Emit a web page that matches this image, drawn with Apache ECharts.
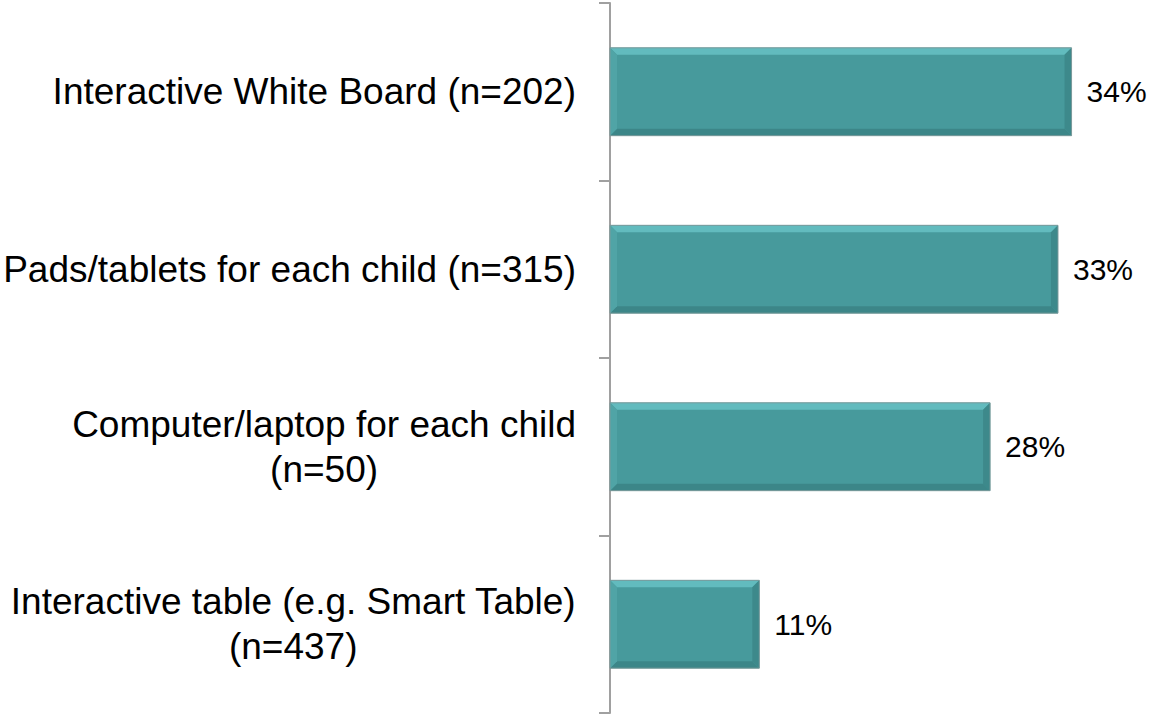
<!DOCTYPE html>
<html>
<head>
<meta charset="utf-8">
<style>
  html, body { margin: 0; padding: 0; background: #fff; }
  #chart { width: 1153px; height: 715px; }
</style>
<script src="https://cdn.jsdelivr.net/npm/echarts@6/dist/echarts.min.js"></script>
</head>
<body>
<div id="chart"></div>
<script>
const categories = [
  'Interactive White Board (n=202)',
  'Pads/tablets for each child (n=315)',
  'Computer/laptop for each child\n(n=50)',
  'Interactive table (e.g. Smart Table)\n(n=437)'
];
const values = [34, 33, 28, 11];

const chart = echarts.init(document.getElementById('chart'), null, { renderer: 'svg' });

const BAR_RATIO = 0.495;
const BEVEL = 7;

// bevel edges on top of the flat bars
const renderBevel = (params, api) => {
  const idx = api.value(1);
  const start = api.coord([0, idx]);
  const end = api.coord([api.value(0), idx]);
  const h = api.size([0, 1])[1] * BAR_RATIO;
  const x0 = start[0], x1 = end[0];
  const yT = start[1] - h / 2, yB = start[1] + h / 2;
  const b = BEVEL;
  const poly = (points, fill) => ({ type: 'polygon', shape: { points }, style: { fill } });
  return {
    type: 'group',
    children: [
      poly([[x0, yT], [x1, yT], [x1 - b, yT + b], [x0 + b, yT + b]], '#62bbbe'),
      poly([[x0, yB], [x1, yB], [x1 - b, yB - b], [x0 + b, yB - b]], '#3c8688'),
      poly([[x0, yT], [x0 + b, yT + b], [x0 + b, yB - b], [x0, yB]], '#50a4a6'),
      poly([[x1, yT], [x1 - b, yT + b], [x1 - b, yB - b], [x1, yB]], '#3d898b'),
      { type: 'rect', shape: { x: x0, y: yT, width: x1 - x0, height: h },
        style: { fill: 'none', stroke: '#7a9a9b', lineWidth: 1 } }
    ]
  };
};

chart.setOption({
  animation: false,
  grid: { left: 610, right: 0, top: 3, bottom: 2 },
  xAxis: {
    type: 'value',
    min: 0,
    max: 40,
    show: false
  },
  yAxis: {
    type: 'category',
    inverse: true,
    data: categories,
    axisLine: { lineStyle: { color: '#a0a0a0', width: 2 } },
    axisTick: { show: true, length: 11, lineStyle: { color: '#a0a0a0', width: 2 } },
    axisLabel: {
      margin: 34,
      align: 'right',
      // lines centred on each other inside a right-aligned block
      formatter: (v) => v.split('\n').map((s) => '{c|' + s + '}').join('\n'),
      rich: {
        c: {
          align: 'center',
          color: '#000',
          fontFamily: 'Liberation Sans',
          fontSize: 37,
          lineHeight: 45
        }
      }
    },
    splitLine: { show: false }
  },
  series: [
    {
      type: 'bar',
      data: values,
      barWidth: (BAR_RATIO * 100) + '%',
      itemStyle: { color: '#479a9c' },
      label: {
        show: true,
        position: 'right',
        distance: 15,
        formatter: '{c}%',
        color: '#000',
        fontFamily: 'Liberation Sans',
        fontSize: 30
      }
    },
    {
      type: 'custom',
      silent: true,
      z: 3,
      renderItem: renderBevel,
      encode: { x: 0, y: 1 },
      data: values.map((v, i) => [v, i])
    }
  ]
});
</script>
</body>
</html>
